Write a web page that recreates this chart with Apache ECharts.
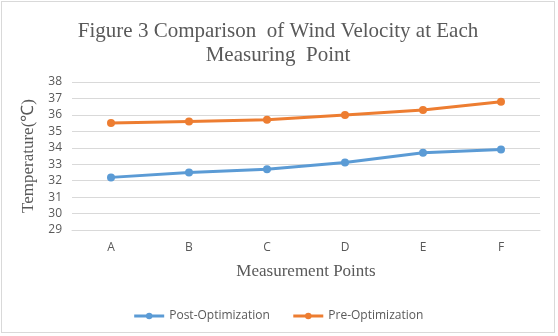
<!DOCTYPE html>
<html>
<head>
<meta charset="utf-8">
<script src="https://cdn.jsdelivr.net/npm/echarts@6/dist/echarts.min.js"></script>
<style>
  html, body { margin: 0; padding: 0; background: #fff; }
  #chart { position: absolute; left: 1px; top: 1px; width: 554px; height: 332px; border: 1px solid #d9d9d9; box-sizing: border-box; }
</style>
</head>
<body>
<div id="chart"></div>
<script>
const categories = ['A', 'B', 'C', 'D', 'E', 'F'];
const postOptimization = [32.2, 32.5, 32.7, 33.1, 33.7, 33.9];
const preOptimization = [35.5, 35.6, 35.7, 36.0, 36.3, 36.8];

const chart = echarts.init(document.getElementById('chart'));
const serif = '"Liberation Serif", "Times New Roman", serif';
const sans = '"Open Sans", "Noto Sans", sans-serif';

chart.setOption({
  animation: false,
  title: {
    text: 'Figure 3 Comparison  of Wind Velocity at Each\nMeasuring  Point',
    left: 'center',
    top: 12,
    textStyle: { fontFamily: serif, fontSize: 21, fontWeight: 'normal', color: '#595959', lineHeight: 24 }
  },
  legend: {
    top: 303,
    left: 'center',
    itemWidth: 30,
    itemHeight: 8,
    itemGap: 22,
    lineStyle: { width: 3 },
    textStyle: { fontFamily: sans, fontSize: 12, color: '#595959' },
    data: ['Post-Optimization', 'Pre-Optimization']
  },
  grid: { left: 70, right: 14, top: 80, bottom: 102 },
  xAxis: {
    type: 'category',
    data: categories,
    name: 'Measurement Points',
    nameLocation: 'middle',
    nameGap: 33,
    nameTextStyle: { fontFamily: serif, fontSize: 17, color: '#595959' },
    axisLine: { lineStyle: { color: '#d9d9d9' } },
    axisTick: { show: false },
    axisLabel: { fontFamily: sans, fontSize: 12, color: '#595959', margin: 12 }
  },
  yAxis: {
    type: 'value',
    min: 29,
    max: 38,
    interval: 1,
    name: 'Temperature(℃)',
    nameLocation: 'middle',
    nameGap: 29,
    nameTextStyle: { fontFamily: serif, fontSize: 17, color: '#595959' },
    axisLine: { show: false },
    axisTick: { show: false },
    axisLabel: { fontFamily: sans, fontSize: 12, color: '#595959', margin: 10 },
    splitLine: { lineStyle: { color: '#d9d9d9', width: 1 } }
  },
  series: [
    {
      name: 'Post-Optimization',
      type: 'line',
      data: postOptimization,
      symbol: 'circle',
      symbolSize: 8,
      lineStyle: { width: 3, color: '#5B9BD5' },
      itemStyle: { color: '#5B9BD5' }
    },
    {
      name: 'Pre-Optimization',
      type: 'line',
      data: preOptimization,
      symbol: 'circle',
      symbolSize: 8,
      lineStyle: { width: 3, color: '#ED7D31' },
      itemStyle: { color: '#ED7D31' }
    }
  ]
});
</script>
</body>
</html>
